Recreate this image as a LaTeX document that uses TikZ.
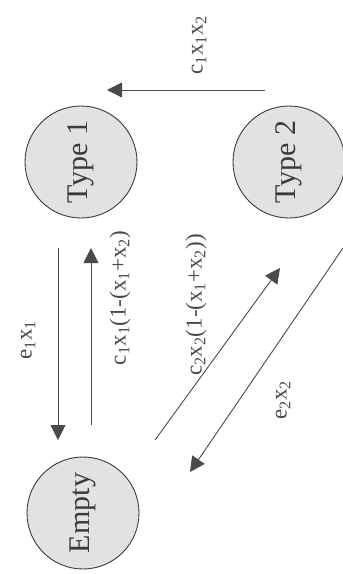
\documentclass[tikz,border=0pt]{standalone}
\usepackage{fontspec}
\setmainfont{Liberation Serif}
\usetikzlibrary{arrows.meta}
\definecolor{StateInk}{HTML}{3A3A3A}
\definecolor{StateFill}{HTML}{E2E2E2}
\definecolor{RateInk}{HTML}{4A4A4A}
\tikzset{
  state node/.style={circle, draw=StateInk, fill=StateFill, line width=.9pt, minimum size=112pt, inner sep=0pt,
    rotate=90, font=\fontsize{30}{32}\selectfont, text=StateInk},
  rate label/.style={rotate=90, font=\fontsize{23}{26}\selectfont, text=RateInk, inner sep=0pt},
  rate/.style={draw=RateInk, line width=.9pt, -{Triangle[length=15pt,width=15pt]}},
}
\newcommand{\ratesub}[1]{\textsubscript{#1}}

\begin{document}
\begin{tikzpicture}[x=1pt,y=-1pt]
  \useasboundingbox (0,0) rectangle (343,574);

  % The three states.
  \node[state node] (type1) at (81,162) {Type 1};
  \node[state node] (type2) at (289,162) {Type 2};
  \node[state node] (empty) at (83,513) {Empty};

  % Free ends of the rate arrows.
  \coordinate (t2out) at (265,90);
  \coordinate (t1in) at (107,90);
  \coordinate (t1down) at (58,248);
  \coordinate (emin) at (58,440);
  \coordinate (emout) at (91,425);
  \coordinate (t1up) at (91,248);
  \coordinate (emdiag) at (155,440);
  \coordinate (t2in) at (280,268);
  \coordinate (t2diag) at (343,248);
  \coordinate (emback) at (190,472);

  % Type 2 -> Type 1
  \draw[rate] (t2out) -- (t1in);
  \node[rate label] (c1x1x2) at (199,45) {c\ratesub{1}x\ratesub{1}x\ratesub{2}};

  % Type 1 <-> Empty
  \draw[rate] (t1down) -- (emin);
  \node[rate label] (e1x1) at (28,340) {e\ratesub{1}x\ratesub{1}};
  \draw[rate] (emout) -- (t1up);
  \node[rate label] (birth1) at (120,298) {c\ratesub{1}x\ratesub{1}(1-(x\ratesub{1}+x\ratesub{2})};

  % Empty <-> Type 2
  \draw[rate] (emdiag) -- (t2in);
  \node[rate label] (birth2) at (196,305) {c\ratesub{2}x\ratesub{2}(1-(x\ratesub{1}+x\ratesub{2}))};
  \draw[rate] (t2diag) -- (emback);
  \node[rate label] (e2x2) at (283,400) {e\ratesub{2}x\ratesub{2}};
\end{tikzpicture}
\end{document}
